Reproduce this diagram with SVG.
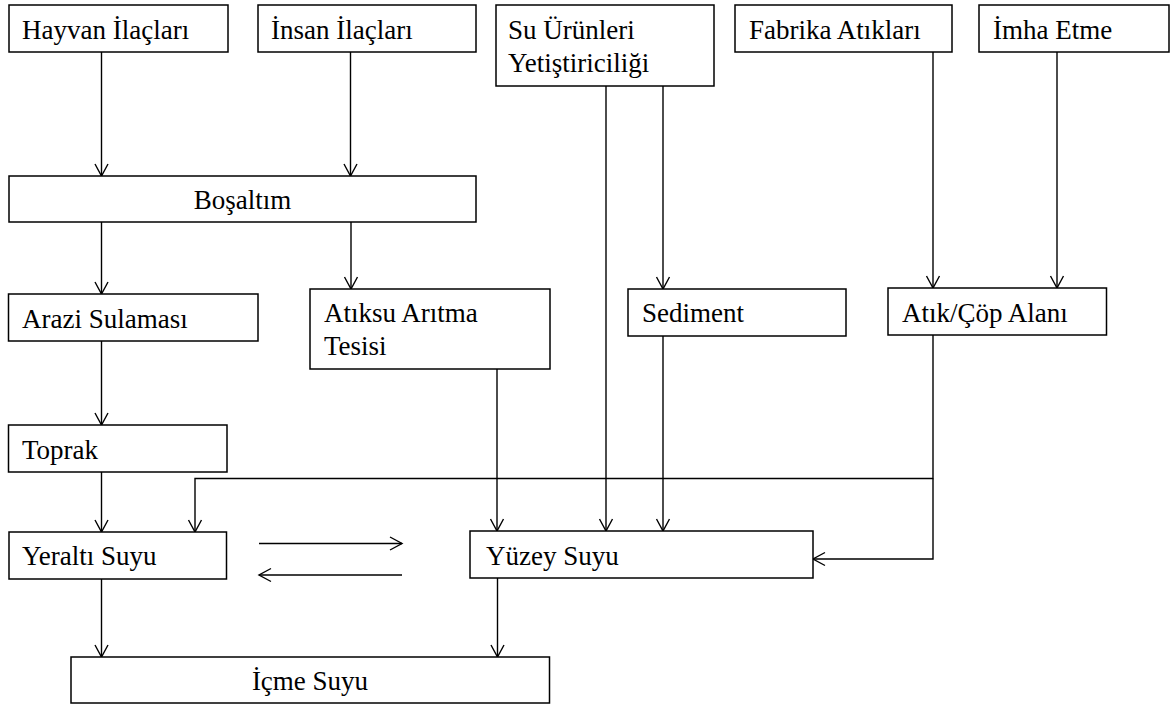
<svg xmlns="http://www.w3.org/2000/svg" width="1171" height="704" viewBox="0 0 1171 704">
<style>
.box{fill:#fff;stroke:#000;stroke-width:1.5}
.t{font-family:"Liberation Serif","Times New Roman",serif;font-size:27px;fill:#000}
.c{text-anchor:middle}
.ln{fill:none;stroke:#000;stroke-width:1.4}
</style>
<defs>
<marker id="ah" markerUnits="userSpaceOnUse" markerWidth="16" markerHeight="16" viewBox="-14 -8 16 16" refX="0" refY="0" orient="auto">
<path d="M-12,-6.5 L0,0 L-12,6.5" fill="none" stroke="#000" stroke-width="1.4"/>
</marker>
</defs>
<rect width="1171" height="704" fill="#fff"/>
<g id="connectors" class="ln">
<path class="ln" d="M101.5,52 V176" marker-end="url(#ah)"/>
<path class="ln" d="M350.5,52 V176" marker-end="url(#ah)"/>
<path class="ln" d="M101.5,222 V294" marker-end="url(#ah)"/>
<path class="ln" d="M351,222 V289" marker-end="url(#ah)"/>
<path class="ln" d="M101.5,341 V425" marker-end="url(#ah)"/>
<path class="ln" d="M101.5,472 V532" marker-end="url(#ah)"/>
<path class="ln" d="M101.5,579 V657" marker-end="url(#ah)"/>
<path class="ln" d="M497,369 V531" marker-end="url(#ah)"/>
<path class="ln" d="M606,86 V531" marker-end="url(#ah)"/>
<path class="ln" d="M663,86 V289" marker-end="url(#ah)"/>
<path class="ln" d="M663,336 V531" marker-end="url(#ah)"/>
<path class="ln" d="M933,52 V288" marker-end="url(#ah)"/>
<path class="ln" d="M1057,52 V288" marker-end="url(#ah)"/>
<path class="ln" d="M933,335 V478.5 H195 V532" marker-end="url(#ah)"/>
<path class="ln" d="M933,478.5 V559 H813" marker-end="url(#ah)"/>
<path class="ln" d="M259,543.5 H402" marker-end="url(#ah)"/>
<path class="ln" d="M402,575 H259" marker-end="url(#ah)"/>
<path class="ln" d="M497.5,578 V657" marker-end="url(#ah)"/>
</g>
<g id="hayvan"><rect class="box" x="9" y="5" width="219" height="47"/><text class="t" x="22" y="38.5">Hayvan İlaçları</text></g>
<g id="insan"><rect class="box" x="258" y="5" width="218" height="47"/><text class="t" x="271" y="38.5">İnsan İlaçları</text></g>
<g id="suurunleri"><rect class="box" x="496" y="5" width="218" height="81"/><text class="t" x="508" y="38.5">Su Ürünleri</text><text class="t" x="508" y="72">Yetiştiriciliği</text></g>
<g id="fabrika"><rect class="box" x="735" y="5" width="217" height="47"/><text class="t" x="749" y="38.5">Fabrika Atıkları</text></g>
<g id="imha"><rect class="box" x="979" y="5" width="190" height="47"/><text class="t" x="993" y="38.5">İmha Etme</text></g>
<g id="bosaltim"><rect class="box" x="9" y="176" width="467" height="46"/><text class="t c" x="242.5" y="209">Boşaltım</text></g>
<g id="arazi"><rect class="box" x="8.5" y="294" width="249.5" height="47"/><text class="t" x="22" y="328">Arazi Sulaması</text></g>
<g id="atiksu"><rect class="box" x="310" y="289" width="240" height="80"/><text class="t" x="324" y="322">Atıksu Arıtma</text><text class="t" x="324" y="355">Tesisi</text></g>
<g id="sediment"><rect class="box" x="628" y="289" width="218" height="47"/><text class="t" x="642" y="322">Sediment</text></g>
<g id="atikcop"><rect class="box" x="888" y="288" width="218.5" height="47"/><text class="t" x="902" y="322">Atık/Çöp Alanı</text></g>
<g id="toprak"><rect class="box" x="8.5" y="425" width="218.5" height="47"/><text class="t" x="22" y="459">Toprak</text></g>
<g id="yeralti"><rect class="box" x="9" y="532" width="217.5" height="47"/><text class="t" x="22" y="565">Yeraltı Suyu</text></g>
<g id="yuzey"><rect class="box" x="470" y="531" width="343" height="47"/><text class="t" x="486" y="565">Yüzey Suyu</text></g>
<g id="icme"><rect class="box" x="71" y="657" width="478.5" height="46"/><text class="t c" x="310" y="690">İçme Suyu</text></g>
</svg>
